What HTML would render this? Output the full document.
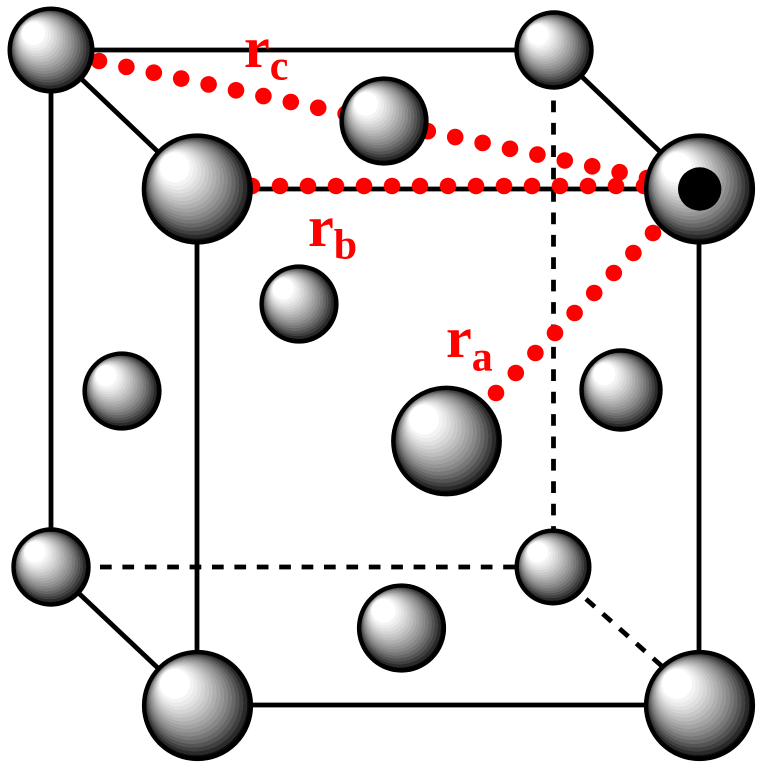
<!DOCTYPE html>
<html><head><meta charset="utf-8"><style>html,body{margin:0;padding:0;background:#fff}svg{display:block}text{font-family:"Liberation Serif",serif;font-weight:bold;fill:#f00}</style></head>
<body>
<svg width="764" height="770" viewBox="0 0 764 770" xmlns="http://www.w3.org/2000/svg">
<defs>
<radialGradient id="g" cx=".5" cy=".5" r=".5" fx=".28" fy=".29" fr=".125">
<stop offset="0" stop-color="#fff"/><stop offset=".04" stop-color="#fff"/>
<stop offset=".04" stop-color="#f4f4f4"/><stop offset=".1" stop-color="#f4f4f4"/>
<stop offset=".1" stop-color="#ebebeb"/><stop offset=".16" stop-color="#ebebeb"/>
<stop offset=".16" stop-color="#e0e0e0"/><stop offset=".22" stop-color="#e0e0e0"/>
<stop offset=".22" stop-color="#d5d5d5"/><stop offset=".28" stop-color="#d5d5d5"/>
<stop offset=".28" stop-color="#c9c9c9"/><stop offset=".34" stop-color="#c9c9c9"/>
<stop offset=".34" stop-color="#bdbdbd"/><stop offset=".4" stop-color="#bdbdbd"/>
<stop offset=".4" stop-color="#b0b0b0"/><stop offset=".46" stop-color="#b0b0b0"/>
<stop offset=".46" stop-color="#a3a3a3"/><stop offset=".52" stop-color="#a3a3a3"/>
<stop offset=".52" stop-color="#969696"/><stop offset=".58" stop-color="#969696"/>
<stop offset=".58" stop-color="#888"/><stop offset=".64" stop-color="#888"/>
<stop offset=".64" stop-color="#787878"/><stop offset=".7" stop-color="#787878"/>
<stop offset=".7" stop-color="#676767"/><stop offset=".76" stop-color="#676767"/>
<stop offset=".76" stop-color="#545454"/><stop offset=".82" stop-color="#545454"/>
<stop offset=".82" stop-color="#404040"/><stop offset=".88" stop-color="#404040"/>
<stop offset=".88" stop-color="#2a2a2a"/><stop offset=".94" stop-color="#2a2a2a"/>
<stop offset=".94" stop-color="#111"/><stop offset="1" stop-color="#000"/>
</radialGradient>
</defs>
<g fill="none" stroke="#000" stroke-width="4.8">
<path d="M51 50H554M51 50V567M51 50L197 189M554 50L699 189M197 189H699M197 189V705M699 189V705M197 705H699M51 567L197 705"/>
<path d="M553.5 100.5V530" stroke-dasharray="11.7 10.7"/>
<path d="M100 567H520" stroke-dasharray="11.7 10.7"/>
<path d="M586 599L664 668" stroke-dasharray="11.7 10.7"/>
</g>
<g fill="#f00">
<circle cx="653" cy="233" r="8.3"/><circle cx="633.4" cy="253" r="8.3"/><circle cx="613.8" cy="273" r="8.3"/><circle cx="594.2" cy="293" r="8.3"/><circle cx="574.6" cy="313" r="8.3"/><circle cx="555" cy="333" r="8.3"/><circle cx="535.4" cy="353" r="8.3"/><circle cx="515.8" cy="373" r="8.3"/><circle cx="496" cy="393" r="8.3"/>
<circle cx="252" cy="186" r="8.3"/><circle cx="280" cy="186" r="8.3"/><circle cx="308" cy="186" r="8.3"/><circle cx="336" cy="186" r="8.3"/><circle cx="364" cy="186" r="8.3"/><circle cx="392" cy="186" r="8.3"/><circle cx="420" cy="186" r="8.3"/><circle cx="448" cy="186" r="8.3"/><circle cx="476" cy="186" r="8.3"/><circle cx="504" cy="186" r="8.3"/><circle cx="532" cy="186" r="8.3"/><circle cx="560" cy="186" r="8.3"/><circle cx="588" cy="186" r="8.3"/><circle cx="616" cy="186" r="8.3"/><circle cx="644" cy="186" r="8.3"/>
<circle cx="99" cy="61" r="8.3"/><circle cx="126.4" cy="66.9" r="8.3"/><circle cx="153.8" cy="72.7" r="8.3"/><circle cx="181.2" cy="78.6" r="8.3"/><circle cx="208.6" cy="84.4" r="8.3"/><circle cx="236" cy="90.3" r="8.3"/><circle cx="263.4" cy="96.1" r="8.3"/><circle cx="290.8" cy="102" r="8.3"/><circle cx="318.2" cy="107.8" r="8.3"/><circle cx="345.6" cy="113.7" r="8.3"/><circle cx="373" cy="119.5" r="8.3"/><circle cx="400.4" cy="125.4" r="8.3"/><circle cx="427.8" cy="131.2" r="8.3"/><circle cx="455.2" cy="137.1" r="8.3"/><circle cx="482.6" cy="142.9" r="8.3"/><circle cx="510" cy="148.8" r="8.3"/><circle cx="537.4" cy="154.6" r="8.3"/><circle cx="564.8" cy="160.5" r="8.3"/><circle cx="592.2" cy="166.3" r="8.3"/><circle cx="619.6" cy="172.2" r="8.3"/><circle cx="647" cy="178" r="8.3"/>
</g>
<g fill="url(#g)" stroke="#000" stroke-width="4.4">
<circle cx="51" cy="50" r="41.3"/>
<circle cx="554" cy="50" r="37.5"/>
<circle cx="384" cy="121" r="42.4"/>
<circle cx="197.3" cy="189" r="53.4"/>
<circle cx="699.5" cy="189" r="53.4"/>
<circle cx="299" cy="304" r="37.4"/>
<circle cx="122" cy="391" r="37.4"/>
<circle cx="621" cy="390" r="39.5"/>
<circle cx="446.5" cy="441" r="53.2"/>
<circle cx="51" cy="567" r="37.5"/>
<circle cx="553" cy="567" r="36.3"/>
<circle cx="401.5" cy="628" r="42.4"/>
<circle cx="197.5" cy="705.5" r="53.4"/>
<circle cx="699.5" cy="705.5" r="53.4"/>
</g>
<circle cx="699.7" cy="189" r="21.7" fill="#000"/>
<text x="244" y="67" font-size="58">r<tspan font-size="42" dy="12.5">c</tspan></text>
<text x="308" y="246" font-size="58">r<tspan font-size="42" dy="12.5">b</tspan></text>
<text x="446" y="357" font-size="58">r<tspan font-size="42" dy="13.5">a</tspan></text>
</svg>
</body></html>
